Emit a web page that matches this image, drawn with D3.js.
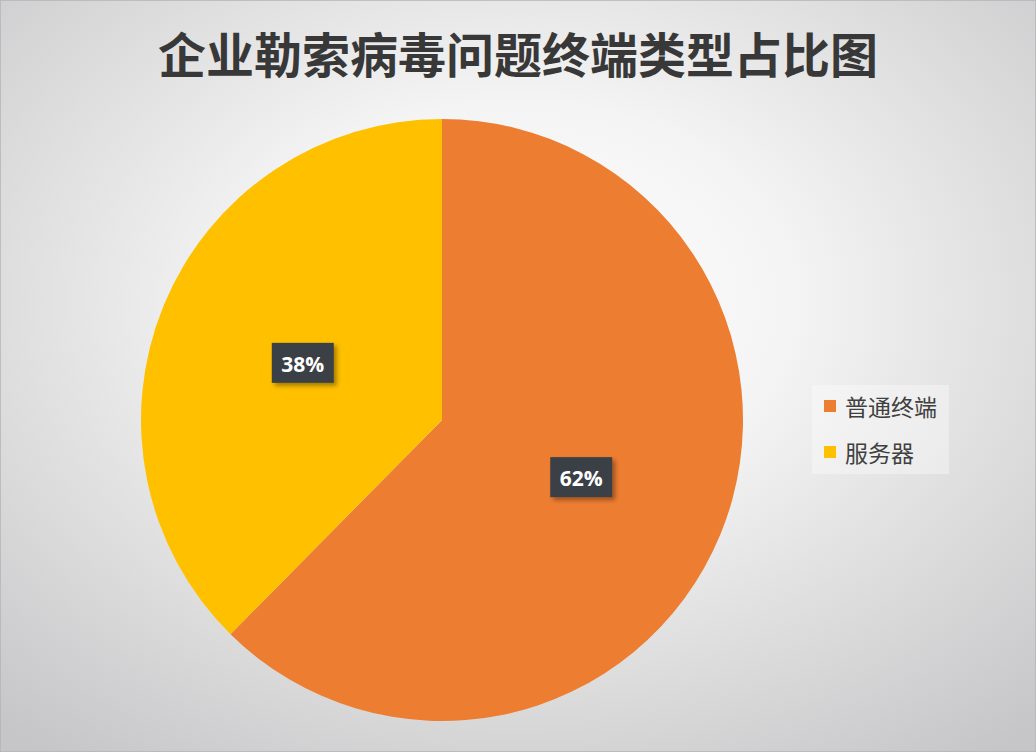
<!DOCTYPE html>
<html>
<head>
<meta charset="utf-8">
<script src="https://cdn.jsdelivr.net/npm/d3@7"></script>
<style>
  html, body { margin: 0; padding: 0; }
  body { width: 1036px; height: 752px; overflow: hidden; }
</style>
</head>
<body>
<div id="chart"></div>
<script>
const title = '企业勒索病毒问题终端类型占比图'
const categories = ['普通终端', '服务器']
const values = [62.4, 37.6]
const colors = ['#ED7D31', '#FFC000']

const width = 1036
const height = 752
const cx = 442, cy = 420
const radius = 301

const svg = d3.select('#chart').append('svg')
  .attr('width', width)
  .attr('height', height)

const defs = svg.append('defs')
const bg = defs.append('radialGradient')
  .attr('id', 'bg')
  .attr('cx', '50%').attr('cy', '40%').attr('r', '75%')
bg.append('stop').attr('offset', '0%').attr('stop-color', '#ffffff')
bg.append('stop').attr('offset', '35%').attr('stop-color', '#f4f4f4')
bg.append('stop').attr('offset', '100%').attr('stop-color', '#c6c6c8')

const shadow = defs.append('filter').attr('id', 'shadow')
  .attr('x', '-20%').attr('y', '-20%').attr('width', '150%').attr('height', '160%')
shadow.append('feDropShadow')
  .attr('dx', 3).attr('dy', 3).attr('stdDeviation', 2)
  .attr('flood-color', '#000').attr('flood-opacity', 0.35)

svg.append('rect')
  .attr('width', width).attr('height', height)
  .attr('fill', 'url(#bg)')
  .attr('stroke', '#b4b4b6').attr('stroke-width', 1.5)

svg.append('text')
  .attr('x', 518).attr('y', 52)
  .attr('text-anchor', 'middle')
  .attr('dominant-baseline', 'central')
  .style('font-family', '"Noto Sans CJK SC", sans-serif')
  .style('font-weight', 'bold')
  .style('font-size', '48px')
  .style('fill', '#383838')
  .text(title)

const pie = d3.pie().sort(null)
const arc = d3.arc().innerRadius(0).outerRadius(radius)
const arcs = pie(values)

const g = svg.append('g').attr('transform', `translate(${cx}, ${cy})`)

g.selectAll('path')
  .data(arcs)
  .enter().append('path')
  .attr('d', arc)
  .attr('fill', (d, i) => colors[i])

// percentage labels in dark boxes
const labels = g.selectAll('g.label')
  .data(arcs)
  .enter().append('g')
  .attr('class', 'label')
  .attr('transform', d => `translate(${arc.centroid(d)})`)

labels.append('rect')
  .attr('x', -31).attr('y', -20)
  .attr('width', 62).attr('height', 40)
  .attr('fill', '#3b3f46')
  .attr('filter', 'url(#shadow)')

labels.append('text')
  .attr('text-anchor', 'middle')
  .attr('dominant-baseline', 'central')
  .attr('y', 1)
  .style('font-family', '"Open Sans", sans-serif')
  .style('font-weight', 'bold')
  .style('font-size', '21px')
  .style('fill', '#ffffff')
  .text(d => Math.round(d.data) + '%')

// legend
const legend = svg.append('g').attr('transform', 'translate(812, 385)')
legend.append('rect')
  .attr('width', 137).attr('height', 89)
  .attr('fill', '#ffffff').attr('fill-opacity', 0.35)

const items = legend.selectAll('g.item')
  .data(categories)
  .enter().append('g')
  .attr('class', 'item')
  .attr('transform', (d, i) => `translate(0, ${21 + i * 46})`)

items.append('rect')
  .attr('x', 12).attr('y', -6)
  .attr('width', 12).attr('height', 12)
  .attr('fill', (d, i) => colors[i])

items.append('text')
  .attr('x', 33)
  .attr('dominant-baseline', 'central')
  .style('font-family', '"Noto Sans CJK SC", sans-serif')
  .style('font-size', '23px')
  .style('fill', '#404040')
  .text(d => d)
</script>
</body>
</html>
